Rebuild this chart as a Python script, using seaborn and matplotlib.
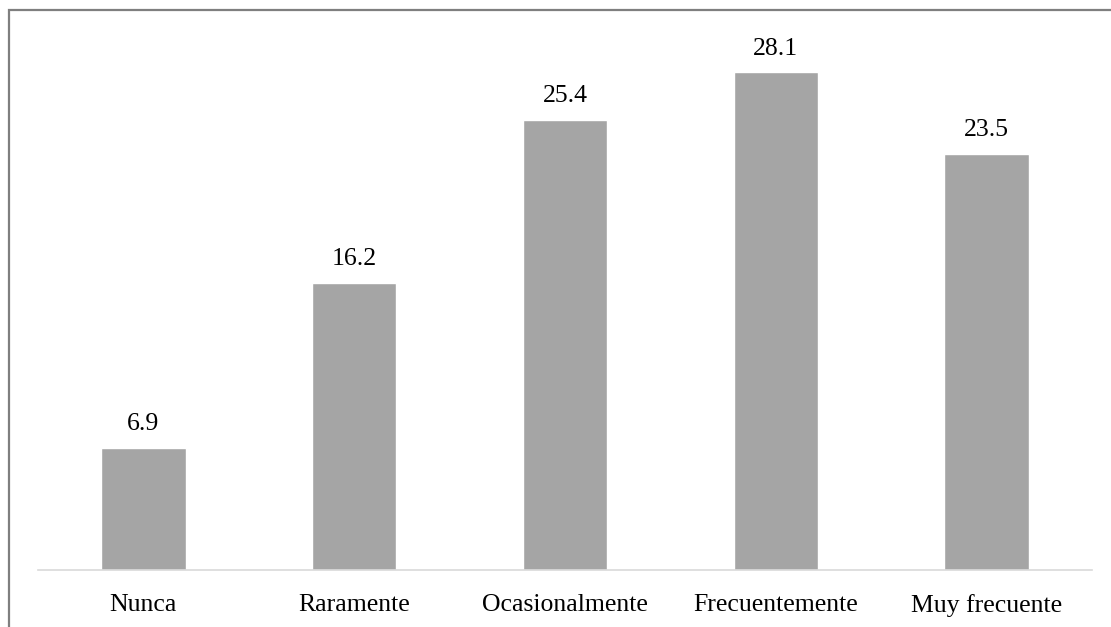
import matplotlib
matplotlib.use("Agg")
import matplotlib.pyplot as plt
import seaborn as sns
import pandas as pd
from matplotlib.lines import Line2D

categories = ["Nunca", "Raramente", "Ocasionalmente", "Frecuentemente", "Muy frecuente"]
values = [6.9, 16.2, 25.4, 28.1, 23.5]

df = pd.DataFrame({"categoria": categories, "valor": values})

sns.set_theme(style="white")
plt.rcParams["font.family"] = ["Liberation Serif", "DejaVu Serif"]

fig = plt.figure(figsize=(11.11, 6.27), dpi=100)
ax = fig.add_axes([38 / 1111, 57 / 627, (1092 - 38) / 1111, (570 - 38.4) / 627])

sns.barplot(data=df, x="categoria", y="valor", order=categories, color="#a5a5a5",
            saturation=1, width=0.4, ax=ax)

ax.set_ylim(0, 30)
ax.set_xlim(-0.5, len(categories) - 0.5)
ax.set_xlabel("")
ax.set_ylabel("")
ax.set_yticks([])
for side in ["left", "right", "top"]:
    ax.spines[side].set_visible(False)
ax.spines["bottom"].set_color("#d9d9d9")
ax.spines["bottom"].set_linewidth(1.2)
ax.tick_params(axis="x", length=0, pad=17.5, labelsize=18.5, labelcolor="black")

for i, v in enumerate(values):
    ax.annotate(f"{v:.1f}", xy=(i, v), xytext=(0, 9), textcoords="offset points",
                ha="center", va="bottom", fontsize=18.5, color="black")

# outer frame (left and top edges)
x0 = 8.5 / 1111
y0 = 1 - 9.5 / 627
fig.add_artist(Line2D([x0, x0, 1.0], [0.0, y0, y0], transform=fig.transFigure,
                      color="#7f7f7f", linewidth=1.6, solid_joinstyle="miter"))

fig.savefig("out.png", dpi=100)
